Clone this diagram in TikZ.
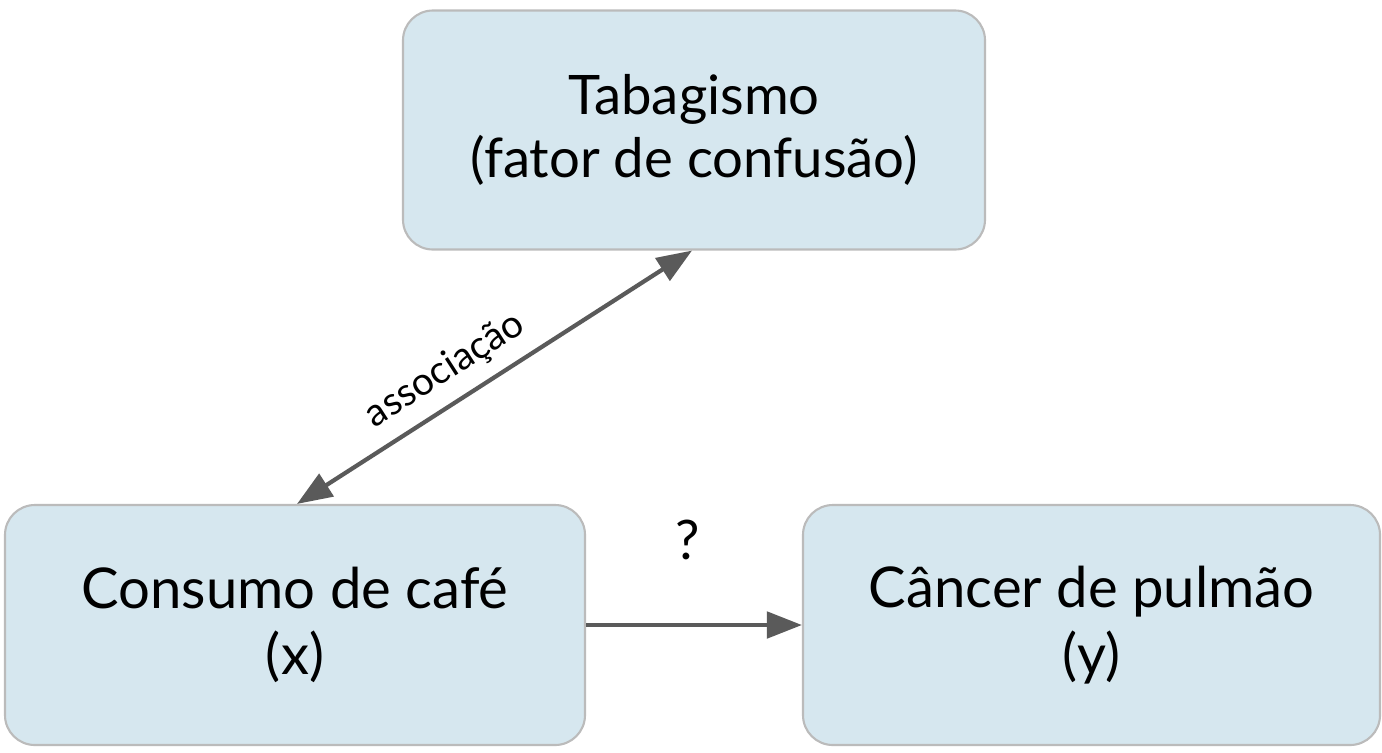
\documentclass[tikz,border=0pt]{standalone}
\usepackage{fontspec}
\setmainfont{Lato}
\usetikzlibrary{arrows.meta}
\definecolor{boxfill}{HTML}{D6E7EF}
\definecolor{boxline}{HTML}{BBBBBB}
\definecolor{arrowgray}{HTML}{5A5A5A}
\tikzset{
    box/.style={draw=boxline, line width=1.2pt, fill=boxfill, rounded corners=17pt,
        align=center, inner sep=0pt},
    link/.style={draw=arrowgray, line width=2.4pt, -{Triangle[length=20pt,width=15pt]}}
}
\begin{document}
\begin{tikzpicture}[x=0.02cm, y=-0.02cm]
    \useasboundingbox (0,0) rectangle (1382,752);

    % Variables
    \node[box, minimum width=582*0.02cm, minimum height=239*0.02cm,
        font=\fontsize{31}{36}\selectfont] (smoke) at (694,130)
        {Tabagismo\\(fator de confusão)};
    \node[box, minimum width=580*0.02cm, minimum height=240*0.02cm,
        font=\fontsize{32}{38}\selectfont] (coffee) at (295,625)
        {Consumo de café\\(x)};
    \node[box, minimum width=577*0.02cm, minimum height=240*0.02cm,
        font=\fontsize{32}{38}\selectfont] (cancer) at (1091.5,625)
        {Câncer de pulmão\\(y)};

    % Connectors
    \draw[link, {Triangle[length=20pt,width=15pt]}-{Triangle[length=20pt,width=15pt]}]
        ([xshift=2*0.02cm]coffee.north) -- node[sloped, above=4pt, pos=0.42,
        font=\fontsize{22}{24}\selectfont] (assoc) {associação} ([xshift=-2*0.02cm]smoke.south);
    \draw[link] (coffee.east) -- (cancer.west);
    \node[font=\fontsize{31}{32}\selectfont] (q) at (688,540) {?};
\end{tikzpicture}
\end{document}
